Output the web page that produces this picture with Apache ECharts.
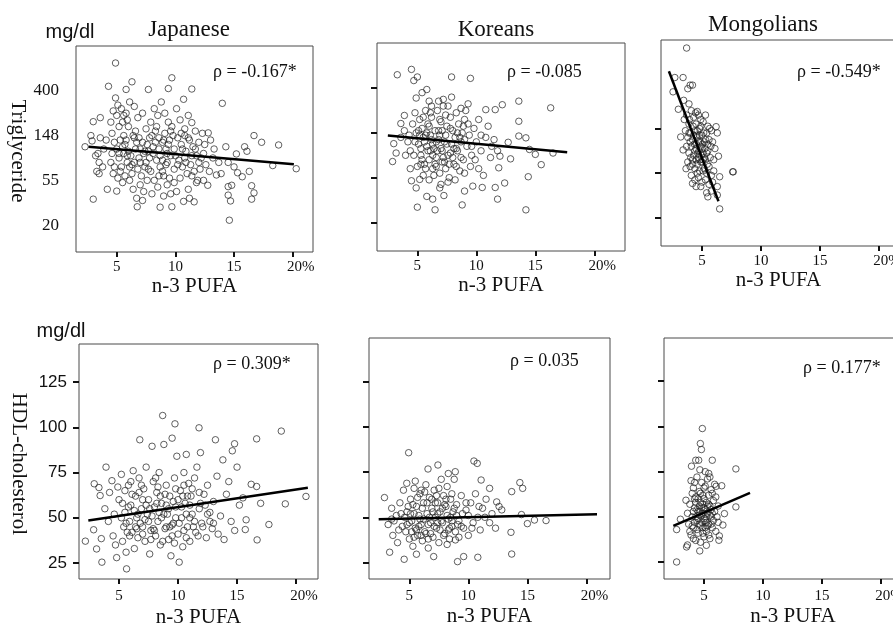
<!DOCTYPE html>
<html>
<head>
<meta charset="utf-8">
<script src="https://cdn.jsdelivr.net/npm/echarts@6/dist/echarts.min.js"></script>
<style>
  html, body { margin: 0; padding: 0; background: #fff; }
  #chart { width: 893px; height: 623px; }
</style>
</head>
<body>
<div id="chart"></div>
<script>
// n-3 PUFA (%) vs ln(triglyceride) / HDL-cholesterol (mg/dl)
const groups = ['Japanese', 'Koreans', 'Mongolians']
const rhoTG = ['ρ = -0.167*', 'ρ = -0.085', 'ρ = -0.549*']
const rhoHDL = ['ρ = 0.309*', 'ρ = 0.035', 'ρ = 0.177*']
const pufaTicks = [5, 10, 15, 20]
const tgTicks = [3, 4, 5, 6]               // ln(mg/dl)
const tgTickLabels = ['20', '55', '148', '400']
const hdlTicks = [25, 50, 75, 100, 125]

const jpnTG = [
  [2.3,4.75],[2.9,4.88],[3.0,5.31],[2.8,5.0],[3.6,5.4],[3.2,4.55],[3.5,4.4],[3.3,4.2],[3.0,3.58],[3.6,4.95],[3.9,4.7],[3.4,4.6],[4.1,4.9],[4.2,3.8],[3.8,4.3],[3.5,4.15],
  [4.3,6.1],[4.9,6.62],[4.9,5.84],[5.1,5.68],[4.5,5.3],[4.7,5.55],[5.0,5.45],[5.2,5.2],[5.4,5.6],[5.6,5.45],[5.8,5.5],[5.5,5.3],[5.9,5.35],[4.6,5.05],[4.8,4.85],[5.0,4.7],
  [5.2,4.5],[5.4,4.3],[5.6,4.6],[5.8,4.9],[4.5,4.4],[4.7,4.15],[5.0,3.76],[5.1,4.05],[5.3,4.2],[5.5,3.95],[5.7,4.1],[5.9,4.4],[4.8,4.3],[5.6,5.0],[5.3,4.9],[4.6,4.6],
  [6.3,6.2],[5.8,6.03],[6.1,5.75],[6.5,5.65],[6.8,5.4],[7.2,5.5],[6.0,5.2],[6.4,5.0],[6.7,4.85],[7.0,4.7],[7.3,4.6],[7.6,4.8],[6.2,4.55],[6.5,4.4],[6.8,4.25],[7.1,4.1],
  [7.4,4.3],[7.8,4.5],[6.1,4.0],[6.4,3.8],[6.7,3.6],[6.75,3.41],[7.0,3.9],[7.3,3.75],[7.6,4.0],[7.9,4.2],[6.6,4.7],[7.5,5.15],[7.7,6.03],[7.9,5.3],[6.9,4.95],[7.2,3.55],[6.3,4.15],[7.7,4.65],
  [8.2,5.6],[8.5,5.45],[8.8,5.75],[9.1,5.5],[9.4,5.3],[9.7,5.2],[8.3,5.1],[8.6,4.95],[8.9,4.85],[9.2,4.7],[9.5,4.9],[9.8,5.0],[8.1,4.6],[8.4,4.45],[8.7,4.3],[9.0,4.1],
  [9.3,4.4],[9.6,4.55],[9.9,4.25],[8.2,4.0],[8.5,3.85],[8.7,3.4],[9.0,3.65],[9.3,3.9],[9.6,3.7],[9.7,3.41],[9.9,3.95],[8.6,4.7],[9.7,6.29],[9.4,6.05],[8.9,4.2],[9.1,5.05],[8.0,3.7],[9.5,4.05],
  [10.1,5.6],[10.7,5.81],[10.4,5.35],[10.8,5.15],[11.1,5.45],[11.4,6.04],[11.4,5.29],[11.7,5.1],[10.2,4.95],[10.5,4.8],[10.9,4.65],[11.2,4.9],[11.5,4.75],[11.8,4.55],[10.3,4.45],
  [10.6,4.3],[11.0,4.15],[11.3,4.35],[11.6,4.2],[11.9,4.0],[10.4,4.05],[10.7,3.53],[11.1,3.8],[11.6,3.52],[11.2,3.6],[11.8,3.95],[10.1,3.75],[12.0,4.85],[10.8,5.0],[11.4,4.55],
  [12.3,5.05],[12.8,5.06],[12.5,4.8],[13.0,4.9],[13.3,4.7],[12.2,4.5],[12.6,4.35],[12.9,4.2],[13.5,4.12],[13.2,4.5],[12.76,3.89],[13.9,4.15],[14.0,5.72],[12.4,4.0],[13.7,4.4],[12.1,4.25],
  [14.3,4.75],[14.5,4.4],[14.5,3.86],[14.8,3.89],[14.5,3.67],[14.7,3.54],[14.6,3.11],[15.2,4.59],[15.3,4.17],[15.7,4.08],[15.9,4.75],[16.1,4.65],[15.0,4.3],[16.5,3.88],[16.7,3.72],
  [16.5,3.58],[16.7,5.0],[16.3,4.2],[17.35,4.85],[18.3,4.33],[18.8,4.79],[20.3,4.26],
  [5.2,4.6],[5.7,4.8],[6.0,4.65],[6.3,4.35],[6.6,5.1],[6.9,4.5],[7.2,4.85],[7.5,4.4],[7.8,4.95],[8.1,4.75],[8.4,5.2],[8.7,4.55],[9.0,4.9],[9.3,4.6],[9.6,5.1],[9.9,4.7],
  [10.2,4.35],[10.5,5.05],[10.8,4.5],[11.1,4.95],[11.4,4.1],[11.7,4.7],[12.0,4.4],[12.4,4.6],[6.5,4.95],[7.0,4.4],[7.7,4.25],[8.3,4.85],[8.9,4.45],[9.4,4.8],[10.0,4.55],
  [10.6,4.7],[5.5,4.75],[6.1,4.3],[8.0,5.0],[9.2,4.35],[10.9,4.4],[7.4,4.65],[8.6,4.1],[5.9,4.55]
]
const korTG = [
  [3.3,6.3],[4.5,6.42],[5.0,6.25],[4.7,6.17],[7.9,6.25],[9.5,6.22],[5.8,5.97],[5.4,5.9],[4.9,5.78],[6.0,5.71],[6.8,5.71],[7.9,5.8],[7.2,5.75],[13.6,5.71],[16.3,5.56],[12.2,5.63],
  [11.6,5.52],[10.8,5.52],[9.3,5.65],[3.9,5.39],[3.6,5.21],[3.0,4.76],[2.9,4.36],[3.2,4.55],[13.6,5.26],[13.6,4.93],[14.2,4.89],[14.5,4.63],[15.0,4.52],[15.5,4.29],[16.5,4.55],
  [14.4,4.02],[14.2,3.28],[5.0,3.34],[6.5,3.28],[5.8,3.58],[6.3,3.52],[7.25,3.6],[8.8,3.39],[11.8,3.52],[12.4,3.88],[11.6,3.78],[10.5,3.78],[9.7,3.81],[9.0,3.7],[6.9,3.77],
  [4.5,3.93],[4.9,3.77],[5.2,3.96],[4.4,4.2],[11.9,4.22],[12.9,4.42],[12.0,4.48],[12.7,4.79],
  [3.6,4.9],[3.9,5.05],[4.2,4.8],[4.4,4.6],[4.6,5.2],[4.8,5.45],[4.9,5.0],[5.1,4.75],[5.2,5.3],[5.3,4.5],[5.4,5.1],[5.5,4.9],[5.6,4.3],[5.7,5.5],[5.8,4.7],[5.9,5.2],
  [6.0,4.4],[6.1,4.95],[6.2,5.35],[6.3,4.2],[6.4,4.65],[6.5,5.05],[6.6,4.45],[6.7,5.5],[6.8,4.85],[6.9,4.1],[7.0,5.25],[7.1,4.6],[7.2,5.6],[7.3,4.35],[7.4,4.95],[7.5,5.15],
  [7.6,4.5],[7.7,4.0],[7.8,5.35],[7.9,4.75],[8.0,5.05],[8.1,4.3],[8.2,4.9],[8.3,5.45],[8.4,4.6],[8.5,5.2],[8.6,4.15],[8.7,4.8],[8.8,5.0],[8.9,4.4],[9.0,5.3],[9.2,4.7],
  [9.4,4.95],[9.6,4.5],[9.8,5.1],[10.0,4.8],[10.2,5.3],[10.4,4.6],[10.6,4.05],[10.8,4.9],[11.0,5.15],[11.2,4.45],[11.5,4.85],[11.8,4.6],[5.0,4.25],[5.5,4.05],[6.0,3.95],
  [6.4,4.05],[7.0,3.85],[7.6,3.9],[8.2,3.95],[9.0,4.1],[9.5,4.25],[10.2,4.2],[4.7,4.5],[5.2,4.95],[5.8,5.0],[6.3,4.75],[6.8,5.05],[7.3,4.8],[7.8,4.55],[8.3,4.65],[6.1,4.6],
  [6.6,4.25],[7.1,4.35],[5.6,4.8],[5.3,4.65],[6.9,4.95],[7.4,5.4],[8.0,4.45],[5.7,4.2],[6.2,5.6],[7.6,5.6],[8.7,5.55],[9.1,5.5],
  [4.8,4.8],[5.1,5.05],[5.4,4.4],[5.7,4.95],[6.0,5.15],[6.3,4.5],[6.6,4.8],[6.9,5.3],[7.2,4.45],[7.5,4.75],[7.8,5.1],[8.1,4.65],[8.4,5.0],[8.7,4.45],[9.0,4.85],[9.3,5.2],
  [9.6,4.7],[5.3,4.3],[5.9,4.6],[6.5,4.3],[7.1,5.05],[7.7,4.3],[8.3,4.25],[8.9,5.15],[9.9,4.4],[6.2,4.85],[7.4,4.2],[6.7,4.6],[5.5,5.35],[8.6,4.9],[10.4,4.95],[11.3,4.7],
  [4.3,4.95],[4.0,4.5],[6.1,5.45],[7.0,4.65]
]
const monTG = [
  [3.7,6.8],[2.7,6.14],[3.4,6.14],[3.8,5.89],[4.0,5.97],[4.2,5.97],[2.55,5.82],[3.45,5.63],[3.0,5.43],[3.9,5.55],[4.6,5.38],[6.2,5.04],[5.65,5.0],[6.4,4.38],[6.5,3.92],
  [7.6,4.03],[7.65,4.03],[6.5,3.2],[6.3,3.51],[5.4,3.56],[5.5,3.47],[4.2,3.77],[4.5,3.7],[3.4,4.52],[3.2,4.81],
  [3.5,5.2],[3.7,5.3],[3.9,5.1],[4.1,5.4],[4.3,5.25],[4.5,5.1],[4.7,5.3],[4.9,5.2],[5.1,5.15],[5.3,5.3],[5.5,5.05],[5.8,4.95],[3.6,4.95],[3.8,4.8],[4.0,4.9],[4.2,4.75],
  [4.4,4.95],[4.6,4.8],[4.8,5.0],[5.0,4.85],[5.2,4.7],[5.4,4.9],[5.6,4.75],[5.9,4.7],[6.1,4.55],[3.7,4.6],[3.9,4.45],[4.1,4.6],[4.3,4.4],[4.5,4.55],[4.7,4.35],[4.9,4.6],
  [5.1,4.45],[5.3,4.3],[5.5,4.5],[5.7,4.35],[6.0,4.3],[3.8,4.25],[4.0,4.15],[4.2,4.3],[4.4,4.1],[4.6,4.2],[4.8,4.05],[5.0,4.25],[5.2,4.1],[5.4,4.0],[5.6,4.15],[5.8,3.95],
  [6.0,4.05],[4.1,3.95],[4.4,3.85],[4.7,3.9],[5.0,3.8],[5.3,3.85],[5.6,3.75],[5.9,3.8],[4.5,4.65],[4.75,4.5],[4.85,4.7],[4.95,4.4],[5.05,4.65],[4.65,4.45],[4.55,4.85],
  [4.35,4.65],[5.15,4.9],[4.25,5.05],[3.95,5.2],[4.45,5.35],[5.25,4.55],[4.05,4.35],[5.45,4.2],[3.65,4.1],[6.3,4.9],[5.75,4.6],[6.3,3.7],[5.8,3.6],[4.9,3.7],
  [4.3,4.85],[4.5,4.3],[4.7,4.7],[4.9,4.25],[5.1,4.3],[5.3,4.75],[4.6,4.95],[4.8,4.3],[5.0,4.55],[4.4,4.5],[4.2,4.2],[5.2,4.35],[4.9,5.05],[5.5,4.65],[4.0,4.7],[4.6,4.0],
  [5.1,4.05],[3.9,4.9],[4.8,4.85],[5.4,4.45]
]
const jpnHDL = [
  [2.15,37.1],[2.85,43.4],[2.9,68.8],[3.3,66.7],[3.4,62.3],[3.55,25.5],[3.1,32.8],[3.9,78],[3.5,38.5],[3.8,55],[4.2,64],[4.4,70.5],[4.6,52],[4.1,48],[4.5,40],[4.8,28],
  [4.7,35],[4.9,67],[5.0,60],[5.64,21.8],[5.2,74],[5.4,45],[5.5,53],[5.3,37],[5.6,31],[5.8,68],[5.9,48],[6.0,57],[6.1,42],[6.2,76],[6.3,33],[6.4,62],[6.5,50],[6.6,39],
  [6.7,72],[6.76,93.1],[6.9,55],[7.0,45],[7.1,66],[7.2,37],[7.3,78],[7.4,52],[7.5,60],[7.6,30],[7.7,43],[7.8,89.5],[7.9,70],[8.0,56],[8.1,40],[8.2,64],[8.3,48],[8.4,75],
  [8.5,35],[8.6,58],[8.7,106.5],[8.8,90.5],[8.9,44],[9.0,68],[9.1,52],[9.2,38],[9.3,62],[9.4,29],[9.5,94],[9.6,47],[9.7,72],[9.74,101.9],[9.8,56],[9.9,84],[10.0,41],
  [10.1,25.5],[10.2,65],[10.3,50],[10.4,34],[10.5,75],[10.6,58],[10.7,85],[10.8,45],[10.9,69],[11.0,37],[11.1,62],[11.2,52],[11.4,72],[11.5,42],[11.6,78],[11.78,99.7],
  [11.8,55],[11.9,86],[12.0,47],[12.2,63],[12.4,39],[12.5,68],[12.7,53],[12.9,44],[13.17,93.1],[13.0,59],[13.3,73],[13.4,41],[13.6,51],[13.8,82],[13.9,38],[14.1,63],
  [14.3,70],[14.5,48],[14.6,87],[14.79,90.9],[14.8,43],[15.0,78],[15.2,57],[15.5,61],[15.77,48.9],[15.7,43.5],[16.2,68.5],[16.66,93.6],[16.7,37.8],[16.66,67.3],[17.0,58],
  [17.7,46.3],[18.75,97.9],[19.09,57.7],[20.84,61.8],
  [5.5,65],[6.0,70],[6.5,44],[7.0,60],[7.5,48],[8.0,43],[8.5,62],[9.0,57],[9.5,46],[10.0,60],[10.5,43],[11.0,50],[5.8,56],[6.3,54],[6.8,47],[7.3,57],[7.8,51],[8.3,67],
  [8.8,52],[9.3,45],[9.8,66],[10.3,56],[10.8,62],[11.3,45],[11.8,64],[12.3,57],[5.2,50],[5.7,42],[6.7,64],[7.7,38],[8.7,37],[9.7,36],[10.7,39],[11.7,40],[12.7,48],
  [5.3,58],[5.6,47],[6.1,63],[6.4,45],[6.9,68],[7.2,49],[7.6,55],[7.9,44],[8.2,58],[8.6,50],[8.9,63],[9.2,55],[9.5,40],[9.8,50],[10.1,47],[10.4,62],[10.7,52],[11.0,57],
  [11.4,48],[11.9,58],[12.5,52],[13.0,47],[6.6,52],[7.0,41],[8.4,53],[9.0,45],[10.5,68],[11.2,66],[5.9,40],[8.1,72],[9.6,59],[12.1,45]
]
const korHDL = [
  [4.94,85.7],[10.47,81.1],[10.75,79.8],[7.42,78.9],[6.58,76.7],[8.89,75.2],[8.3,74.2],[11.08,70.6],[4.78,68.8],[2.89,60.9],[14.36,69.2],[14.6,66],[13.67,64.2],[11.8,66],
  [12.83,54.1],[12.4,58.5],[13.61,41.7],[14.5,51.5],[15.0,46.5],[15.6,48.5],[16.58,48.2],[13.67,29.7],[4.56,26.8],[3.33,30.7],[5.6,29.6],[7.06,28.3],[9.08,25.5],[9.6,28.3],
  [10.8,27.9],[8.9,37.5],[8.2,35],
  [3.2,46],[3.5,55],[3.6,40],[3.9,51],[4.0,36],[4.2,58],[4.4,45],[4.5,65],[4.7,42],[4.8,53],[5.0,38],[5.1,60],[5.2,48],[5.3,34],[5.4,66],[5.5,44],[5.6,56],[5.7,40],
  [5.8,51],[5.9,63],[6.0,46],[6.1,37],[6.2,58],[6.3,42],[6.4,68],[6.5,52],[6.6,33],[6.7,61],[6.8,47],[6.9,55],[7.0,39],[7.1,65],[7.2,50],[7.3,44],[7.4,58],[7.5,36],
  [7.6,53],[7.7,71],[7.8,47],[7.9,62],[8.0,41],[8.1,56],[8.2,67],[8.3,49],[8.4,38],[8.5,60],[8.6,45],[8.7,53],[8.8,71],[8.9,42],[9.0,57],[9.2,48],[9.4,62],[9.6,44],
  [9.8,54],[10.0,40],[10.2,58],[10.4,47],[10.6,63],[10.8,50],[11.0,43],[11.2,55],[11.5,60],[11.8,47],[12.0,52],[12.3,44],[12.6,56],
  [4.6,50],[5.0,47],[5.4,52],[5.8,45],[6.2,49],[6.6,46],[7.0,53],[7.4,47],[7.8,55],[8.2,51],[8.6,48],[9.0,51],[9.4,45],[4.9,56],[5.7,61],[6.5,58],[7.3,62],[8.1,60],
  [5.2,42],[6.0,40],[6.8,41],[7.6,43],[8.4,44],[9.2,39],[10.0,51],[6.3,64],[7.5,66],[5.5,70],[3.7,48],[4.1,43],
  [4.8,46],[5.1,52],[5.3,57],[5.6,43],[5.9,49],[6.1,55],[6.4,41],[6.7,50],[6.9,60],[7.1,45],[7.4,52],[7.7,48],[8.0,57],[8.3,43],[8.5,50],[8.8,55],[9.1,46],[9.5,52],
  [9.8,58],[10.3,44],[10.9,56],[11.4,50],[6.0,65],[7.2,58],[8.6,63],[5.4,39],[6.6,38],[7.9,40],[4.3,52],[3.5,49]
]
const monHDL = [
  [4.86,98.8],[4.69,90.5],[4.78,87.2],[5.7,81.3],[4.3,81.3],[4.55,81.3],[7.7,76.5],[7.7,55.5],[3.94,78],[5.1,75],[5.4,74],[2.68,25.1],[2.68,43],[3.0,48.7],[3.52,33.4],
  [3.6,34.5],[4.64,31.2],[5.2,34.3],[6.26,37.1],[6.3,39.5],[6.73,51.8],[6.6,45.5],[6.03,66.9],[6.5,67.2],[3.47,59.2],[3.9,70],[4.0,63],
  [3.6,52],[3.7,46],[3.8,57],[3.9,40],[4.0,50],[4.1,66],[4.1,44],[4.2,55],[4.3,37],[4.3,61],[4.4,48],[4.4,72],[4.5,53],[4.5,41],[4.6,64],[4.6,46],[4.7,58],[4.7,36],
  [4.8,51],[4.8,69],[4.9,44],[4.9,62],[5.0,55],[5.0,39],[5.1,48],[5.1,67],[5.2,58],[5.2,42],[5.3,52],[5.3,71],[5.4,46],[5.4,62],[5.5,56],[5.5,38],[5.6,50],[5.6,65],
  [5.7,44],[5.8,59],[5.8,48],[5.9,53],[6.0,42],[6.0,61],[6.1,50],[6.2,56],[4.0,45],[4.2,60],[4.4,43],[4.6,56],[4.8,47],[5.0,60],[5.2,50],[5.4,40],[5.6,54],[4.3,50],
  [4.7,53],[5.1,54],[4.5,60],[4.9,57],[5.3,45],[4.1,38],[5.7,63],[6.2,47],[3.8,42],[5.9,68],[4.65,76],[5.5,72],[4.2,69],
  [4.5,49],[4.7,45],[4.9,52],[5.1,44],[5.3,56],[4.6,51],[4.8,55],[5.0,49],[5.2,47],[4.4,54],[4.2,47],[5.5,51],[4.3,58],[5.7,52],[4.1,53],[5.0,66],[4.7,63],[5.4,57],
  [4.9,41],[5.6,46]
]

// regression lines (end points)
const jpnTGFit = [[2.6,4.75],[20.1,4.36]]
const korTGFit = [[2.5,4.94],[17.7,4.57]]
const monTGFit = [[2.2,6.28],[6.4,3.37]]
const jpnHDLFit = [[2.4,48.5],[21.0,66.6]]
const korHDLFit = [[2.4,48.9],[20.9,51.7]]
const monHDLFit = [[2.4,45.0],[8.9,63.3]]

const serif = '"Liberation Serif", "Times New Roman", serif'
const sans = '"Liberation Sans", Arial, sans-serif'

// the Mongolian panels run past the right edge of the figure
const panels = [
  { grid: { left: 76, top: 46, width: 237, height: 206 }, x: [1.53, 21.73], y: [2.4, 7.0], ticks: tgTicks, labels: 'tg', data: jpnTG, fit: jpnTGFit, nameGap: 19 },
  { grid: { left: 377, top: 43, width: 248, height: 208 }, x: [1.58, 22.6], y: [2.36, 7.01], ticks: tgTicks, labels: null, data: korTG, fit: korTGFit, nameGap: 20 },
  { grid: { left: 661, top: 40, width: 235, height: 206 }, x: [1.53, 21.44], y: [2.37, 6.98], ticks: [3, 4, 5], labels: null, data: monTG, fit: monTGFit, nameGap: 20 },
  { grid: { left: 79, top: 344, width: 239, height: 235 }, x: [1.61, 21.86], y: [16.2, 146], ticks: hdlTicks, labels: 'hdl', data: jpnHDL, fit: jpnHDLFit, nameGap: 28 },
  { grid: { left: 369, top: 338, width: 241, height: 241 }, x: [1.58, 22.0], y: [15.9, 149.1], ticks: hdlTicks, labels: null, data: korHDL, fit: korHDLFit, nameGap: 27 },
  { grid: { left: 664, top: 338, width: 258, height: 241 }, x: [1.61, 23.47], y: [15.7, 148.8], ticks: hdlTicks, labels: null, data: monHDL, fit: monHDLFit, nameGap: 27 }
]

const grid = panels.map(p => Object.assign({
  show: true, borderColor: '#4a4a4a', borderWidth: 1, backgroundColor: 'transparent',
  outerBoundsMode: 'none'
}, p.grid))

const xAxis = panels.map((p, i) => ({
  type: 'value', gridIndex: i, min: p.x[0], max: p.x[1],
  name: 'n-3 PUFA', nameLocation: 'middle', nameGap: p.nameGap,
  nameTextStyle: { fontFamily: serif, fontSize: 21, color: '#111' },
  axisLine: { show: false },
  splitLine: { show: false },
  axisTick: { show: true, customValues: pufaTicks, length: 5, lineStyle: { color: '#111', width: 2 } },
  axisLabel: {
    customValues: pufaTicks, margin: i < 3 ? 8 : 10,
    fontFamily: serif, fontSize: 15, color: '#111',
    formatter: v => v === 20 ? '{p|20%}' : String(v),
    rich: { p: { fontFamily: serif, fontSize: 15, color: '#111', padding: [0, 0, 0, 16] } }
  }
}))

const yAxis = panels.map((p, i) => ({
  type: 'value', gridIndex: i, min: p.y[0], max: p.y[1],
  axisLine: { show: false },
  splitLine: { show: false },
  axisTick: { show: i !== 0, customValues: p.ticks, length: 6, lineStyle: { color: '#111', width: 2 } },
  axisLabel: {
    show: p.labels !== null,
    customValues: p.ticks,
    margin: p.labels === 'tg' ? 17 : 12,
    fontFamily: p.labels === 'tg' ? serif : sans,
    fontSize: 17, color: '#111',
    formatter: v => p.labels === 'tg' ? tgTickLabels[tgTicks.indexOf(v)] : String(v)
  }
}))

const series = []
panels.forEach((p, i) => {
  series.push({
    type: 'scatter', xAxisIndex: i, yAxisIndex: i, data: p.data,
    symbol: 'circle', symbolSize: 6.5,
    itemStyle: { color: 'rgba(255,255,255,0)', borderColor: '#222', borderWidth: 0.9 }
  })
  series.push({
    type: 'line', xAxisIndex: i, yAxisIndex: i, data: p.fit,
    symbol: 'none', z: 5,
    lineStyle: { color: '#000', width: 2.5 }
  })
})

function txt(text, x, y, font, opts) {
  return Object.assign({
    type: 'text', x, y, silent: true,
    style: { text, font, fill: '#111', align: 'center', verticalAlign: 'middle' }
  }, opts || {})
}

const rhoPos = [[213, 72], [507, 72], [797, 72], [213, 364], [510, 361], [803, 368]]
const graphic = [
  txt(groups[0], 189, 30, '23px ' + serif),
  txt(groups[1], 496, 30, '23px ' + serif),
  txt(groups[2], 763, 25, '23px ' + serif),
  txt('mg/dl', 70, 32, '20px ' + sans),
  txt('mg/dl', 61, 331, '20px ' + sans),
  txt('Triglyceride', 18, 151, '21px ' + serif, { rotation: -Math.PI / 2 }),
  txt('HDL-cholesterol', 19, 464, '21px ' + serif, { rotation: -Math.PI / 2 })
]
rhoTG.concat(rhoHDL).forEach((t, i) => {
  const g = txt(t, rhoPos[i][0], rhoPos[i][1], '18px ' + serif)
  g.style.align = 'left'
  graphic.push(g)
})

const chart = echarts.init(document.getElementById('chart'))
chart.setOption({
  backgroundColor: '#fff',
  animation: false,
  grid, xAxis, yAxis, series, graphic
})
</script>
</body>
</html>
